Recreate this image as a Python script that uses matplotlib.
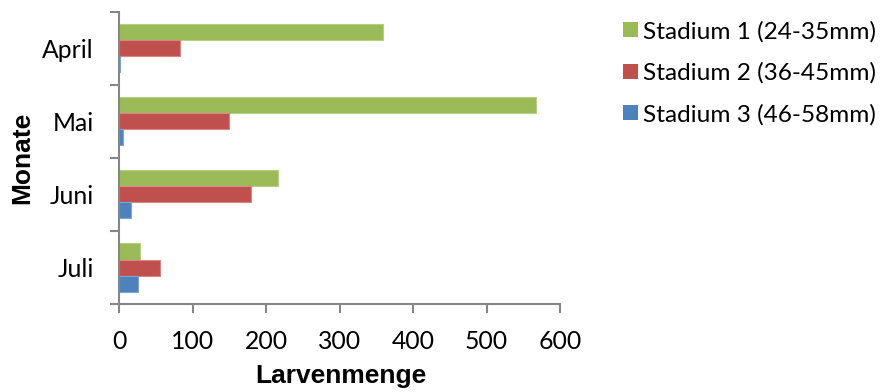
import matplotlib
matplotlib.use("Agg")
import matplotlib.pyplot as plt
import numpy as np
from matplotlib.patches import Rectangle

months = ["April", "Mai", "Juni", "Juli"]
series_names = ["Stadium 1 (24-35mm)", "Stadium 2 (36-45mm)", "Stadium 3 (46-58mm)"]
stadium1 = [359, 567, 216, 28]
stadium2 = [83, 149, 180, 56]
stadium3 = [2, 5, 16, 26]
x_ticks = [0, 100, 200, 300, 400, 500, 600]

colors = ["#9BBB59", "#C0504D", "#4F81BD"]
edges = ["#B5CF85", "#D98582", "#7FA3D3"]
axis_gray = "#868686"

W, H = 882, 392
fig = plt.figure(figsize=(W / 100, H / 100), dpi=100)
ax = fig.add_axes([119 / W, 1 - 304 / H, 441 / W, 292 / H])

pos = np.arange(len(months))
h = 16 / 73
for k, vals in enumerate([stadium1, stadium2, stadium3]):
    ax.barh(pos + (k - 1) * h, vals, height=h, color=colors[k],
            edgecolor=edges[k], linewidth=0.8)

ax.set_xlim(0, 600)
ax.set_ylim(len(months) - 0.5, -0.5)

tick_font = {"family": "Lato", "size": 17.8}
ax.set_xticks(x_ticks)
ax.set_xticklabels([str(v) for v in x_ticks], **tick_font)
ax.set_yticks(np.arange(len(months) + 1) - 0.5)
ax.set_yticklabels([])
ax.set_yticks(pos, minor=True)
ax.set_yticklabels(months, minor=True, **tick_font)
ax.tick_params(axis="y", which="minor", length=0, pad=18)
ax.tick_params(axis="y", which="major", length=6.5, width=1.5, color=axis_gray)
ax.tick_params(axis="x", length=6.5, width=1.5, color=axis_gray, pad=12)

for s in ["top", "right"]:
    ax.spines[s].set_visible(False)
for s in ["left", "bottom"]:
    ax.spines[s].set_color(axis_gray)
    ax.spines[s].set_linewidth(1.5)

fig.text(341 / W, 1 - 376 / H, "Larvenmenge", ha="center", va="center",
         fontsize=19, fontweight="bold", family="Liberation Sans")
fig.text(22 / W, 1 - 158 / H, "Monate", ha="center", va="center",
         rotation=90, fontsize=19, fontweight="bold", family="Liberation Sans")

# legend: colour square followed by the series name, one row per series
sq = 15
for k, (name, c) in enumerate(zip(series_names, colors)):
    yc = 29.5 + k * 41.7
    fig.patches.append(Rectangle((623 / W, 1 - (yc + sq / 2) / H), sq / W, sq / H,
                                 transform=fig.transFigure, facecolor=c,
                                 edgecolor="none"))
    fig.text(643 / W, 1 - yc / H, name, ha="left", va="center_baseline",
             family="Lato", fontsize=17.6)

fig.savefig("out.png", dpi=100)
